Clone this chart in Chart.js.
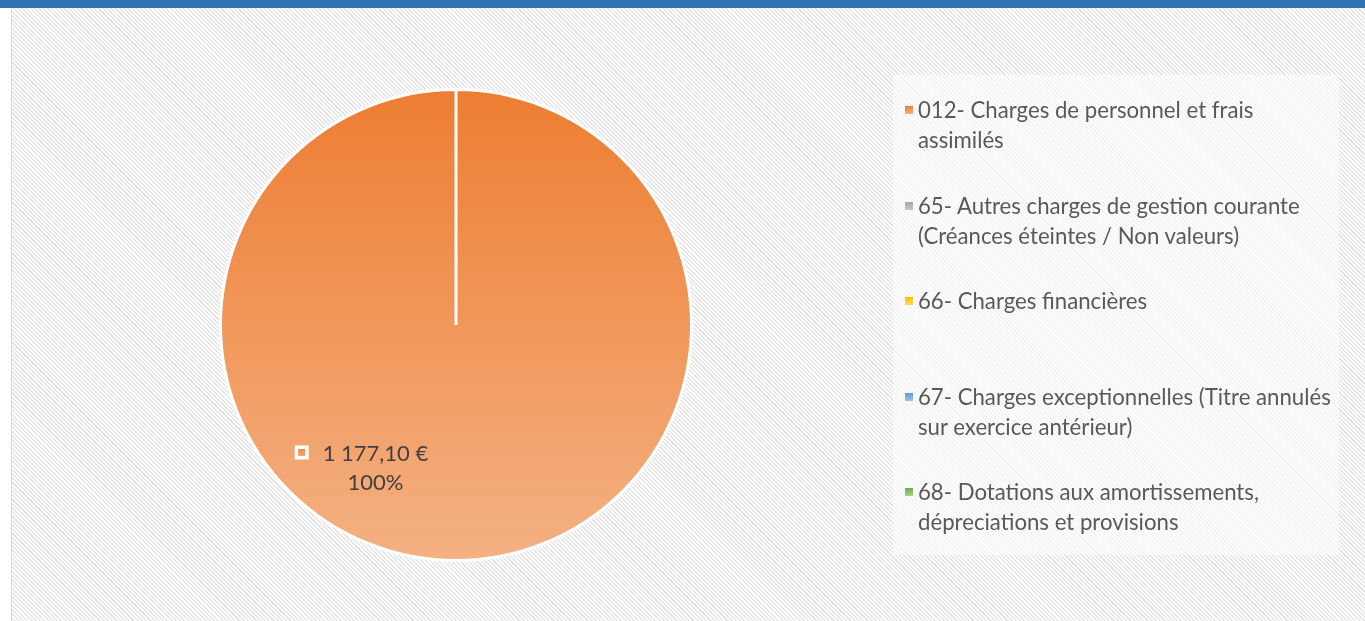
<!DOCTYPE html>
<html lang="fr">
<head>
<meta charset="utf-8">
<title>Charges</title>
<script src="https://cdn.jsdelivr.net/npm/chart.js@4.4.1/dist/chart.umd.min.js"></script>
<style>
    html, body {
        margin: 0;
        padding: 0;
        width: 1365px;
        height: 621px;
        overflow: hidden;
        background: #ffffff;
        font-family: Lato, "Open Sans", sans-serif;
    }
    .topband {
        position: absolute;
        left: 0;
        top: 0;
        width: 1365px;
        height: 8px;
        background: #2e74b5;
    }
    .panel {
        position: absolute;
        left: 11px;
        top: 8px;
        width: 1354px;
        height: 613px;
        border-left: 1px solid #d9d9d9;
        background: repeating-linear-gradient(45deg, #ffffff 0px, #ffffff 1.5px, #e6e6e6 1.5px, #e6e6e6 3px);
    }
    #chartWrap {
        position: absolute;
        left: 0;
        top: 0;
        width: 1365px;
        height: 621px;
    }
    .legend {
        position: absolute;
        left: 893px;
        top: 75px;
        width: 446px;
        height: 480px;
        background: rgba(255, 255, 255, 0.5);
    }
    .legend-item {
        position: absolute;
        left: 25px;
        width: 418px;
        font-size: 22.2px;
        line-height: 30px;
        color: #595959;
    }
    .legend-item .box {
        position: absolute;
        left: -13px;
        top: 11px;
        width: 8px;
        height: 8px;
    }
</style>
</head>
<body>
<div class="topband"></div>
<div class="panel"></div>
<div id="chartWrap"><canvas id="pieChart" width="1365" height="621"></canvas></div>
<div class="legend" id="legend"></div>

<script>
// Chart data
const categories = [
    '012- Charges de personnel et frais assimilés',
    '65- Autres charges de gestion courante (Créances éteintes / Non valeurs)',
    '66- Charges financières',
    '67- Charges exceptionnelles (Titre annulés sur exercice antérieur)',
    '68- Dotations aux amortissements, dépreciations et provisions'
];
const amounts = [1177.10, 0, 0, 0, 0];
const topColors = ['#ed7d31', '#a5a5a5', '#ffc000', '#5b9bd5', '#70ad47'];
const bottomColors = ['#f4b183', '#c9c9c9', '#ffd966', '#9dc3e6', '#a9d18e'];

function formatEuro(v) {
    const s = v.toLocaleString('fr-FR', { minimumFractionDigits: 2, maximumFractionDigits: 2 });
    return s.replace(/[\u202f\u00a0]/g, ' ') + ' €';
}

// Build legend
const legend = document.getElementById('legend');
categories.forEach(function(label, i) {
    const item = document.createElement('div');
    item.className = 'legend-item';
    item.style.top = (20 + i * 95.5) + 'px';
    const box = document.createElement('span');
    box.className = 'box';
    box.style.background = 'linear-gradient(' + topColors[i] + ', ' + bottomColors[i] + ')';
    item.appendChild(box);
    item.appendChild(document.createTextNode(label));
    legend.appendChild(item);
});

// Data label inside the slice
const sliceLabel = {
    id: 'sliceLabel',
    afterDatasetsDraw(chart) {
        const ctx = chart.ctx;
        const arc = chart.getDatasetMeta(0).data[0];
        if (!arc) return;
        const total = amounts.reduce((a, b) => a + b, 0);
        const cx = arc.x - 0.342 * arc.outerRadius;
        const cy = arc.y + 0.605 * arc.outerRadius;

        ctx.save();
        ctx.font = '22px Lato, "Open Sans", sans-serif';
        ctx.fillStyle = '#404040';
        ctx.textAlign = 'center';
        ctx.textBaseline = 'middle';
        const valueText = formatEuro(amounts[0]);
        const pctText = Math.round(amounts[0] / total * 100) + '%';
        ctx.fillText(valueText, cx, cy - 14);
        ctx.fillText(pctText, cx, cy + 15);

        // small legend key before the value
        const w = ctx.measureText(valueText).width;
        const kx = cx - w / 2 - 27;
        const ky = cy - 21;
        const g = ctx.createLinearGradient(0, ky, 0, ky + 12);
        g.addColorStop(0, topColors[0]);
        g.addColorStop(1, bottomColors[0]);
        ctx.fillStyle = '#ffffff';
        ctx.fillRect(kx - 1, ky - 1, 14, 14);
        ctx.fillStyle = g;
        ctx.fillRect(kx + 2.5, ky + 2.5, 7, 7);
        ctx.restore();
    }
};

const ctx = document.getElementById('pieChart');
new Chart(ctx, {
    type: 'pie',
    data: {
        labels: categories,
        datasets: [{
            data: amounts,
            backgroundColor: function(context) {
                const chart = context.chart;
                const area = chart.chartArea;
                if (!area) return topColors[context.dataIndex];
                const g = chart.ctx.createLinearGradient(0, area.top, 0, area.bottom);
                g.addColorStop(0, topColors[context.dataIndex]);
                g.addColorStop(1, bottomColors[context.dataIndex]);
                return g;
            },
            borderColor: '#ffffff',
            borderWidth: 3
        }]
    },
    options: {
        responsive: false,
        animation: false,
        layout: {
            padding: { left: 219, right: 672, top: 88, bottom: 59 }
        },
        plugins: {
            legend: { display: false },
            tooltip: { enabled: false }
        }
    },
    plugins: [sliceLabel]
});
</script>
</body>
</html>
